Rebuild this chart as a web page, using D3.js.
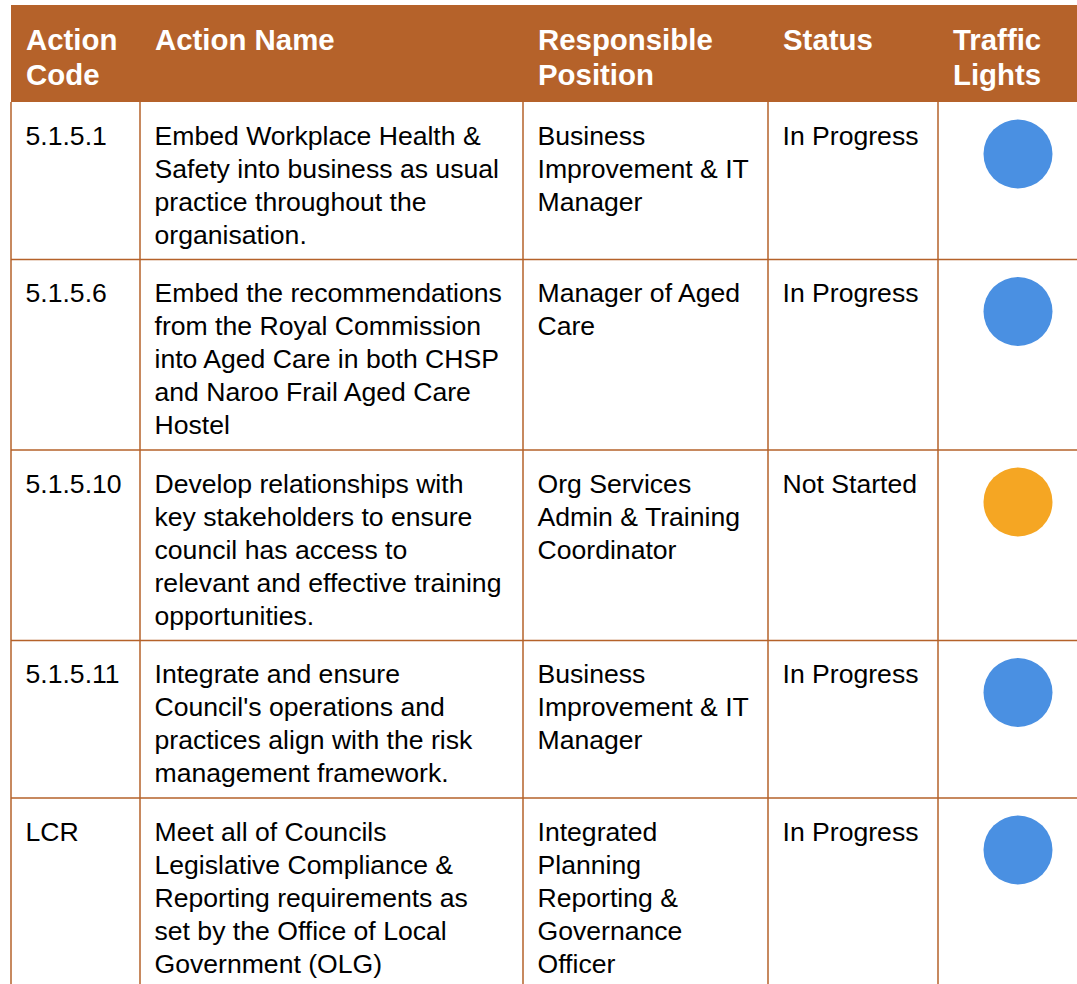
<!DOCTYPE html>
<html><head><meta charset="utf-8">
<script src="https://cdn.jsdelivr.net/npm/d3@7"></script>
<style>html,body{margin:0;padding:0;background:#fff;}svg{display:block;}</style>
</head><body>
<script>
const headers = ["Action\nCode", "Action Name", "Responsible\nPosition", "Status", "Traffic\nLights"];
const codes = ["5.1.5.1", "5.1.5.6", "5.1.5.10", "5.1.5.11", "LCR"];
const actionNames = [
  "Embed Workplace Health &\nSafety into business as usual\npractice throughout the\norganisation.",
  "Embed the recommendations\nfrom the Royal Commission\ninto Aged Care in both CHSP\nand Naroo Frail Aged Care\nHostel",
  "Develop relationships with\nkey stakeholders to ensure\ncouncil has access to\nrelevant and effective training\nopportunities.",
  "Integrate and ensure\nCouncil's operations and\npractices align with the risk\nmanagement framework.",
  "Meet all of Councils\nLegislative Compliance &\nReporting requirements as\nset by the Office of Local\nGovernment (OLG)"
];
const positions = [
  "Business\nImprovement & IT\nManager",
  "Manager of Aged\nCare",
  "Org Services\nAdmin & Training\nCoordinator",
  "Business\nImprovement & IT\nManager",
  "Integrated\nPlanning\nReporting &\nGovernance\nOfficer"
];
const statuses = ["In Progress", "In Progress", "Not Started", "In Progress", "In Progress"];
const lights = ["blue", "blue", "orange", "blue", "blue"];

const W = 1077, H = 984;
const brown = "#B5622A";
const lightColor = {blue: "#4A90E2", orange: "#F5A623"};
const colEdges = [11, 140, 523, 768, 938, 1077];
const headerTop = 5, headerBottom = 102;
const lineH = 33;
const fontBody = "Liberation Sans, Arial, sans-serif";

const svg = d3.select("body").append("svg").attr("width", W).attr("height", H);

const rows = codes.map((c, i) => ({
  cells: [c, actionNames[i], positions[i], statuses[i]],
  light: lights[i]
}));
let y = headerBottom;
rows.forEach(r => {
  const n = d3.max(r.cells, t => t.split("\n").length);
  r.top = y;
  r.h = n * lineH + 25.5;
  y += r.h;
});

svg.append("rect").attr("x", colEdges[0]).attr("y", headerTop)
  .attr("width", W - colEdges[0]).attr("height", headerBottom - headerTop).attr("fill", brown);
headers.forEach((h, j) => {
  const t = svg.append("text")
    .attr("font-family", fontBody).attr("font-weight", "bold").attr("font-size", 29.4)
    .attr("fill", "#fff");
  h.split("\n").forEach((ln, k) => t.append("tspan").attr("x", colEdges[j] + 15).attr("y", 50 + k * 35).text(ln));
});

const g = svg.append("g");
rows.forEach((r, i) => {
  r.cells.forEach((txt, j) => {
    const t = g.append("text").attr("font-family", fontBody).attr("font-size", 26.6).attr("fill", "#000");
    txt.split("\n").forEach((ln, k) => t.append("tspan")
      .attr("x", colEdges[j] + 14.5).attr("y", r.top + 42.5 + k * lineH).text(ln));
  });
  g.append("circle").attr("cx", 1018).attr("cy", r.top + 52).attr("r", 34.5)
    .attr("fill", lightColor[r.light]);
  if (i < rows.length - 1) {
    g.append("line").attr("x1", colEdges[0]).attr("x2", W)
      .attr("y1", r.top + r.h).attr("y2", r.top + r.h)
      .attr("stroke", brown).attr("stroke-width", 1.5);
  }
});
colEdges.slice(0, 5).forEach(x => {
  g.append("line").attr("x1", x).attr("x2", x).attr("y1", headerBottom).attr("y2", H)
    .attr("stroke", brown).attr("stroke-width", 1.5);
});
</script>
</body></html>
